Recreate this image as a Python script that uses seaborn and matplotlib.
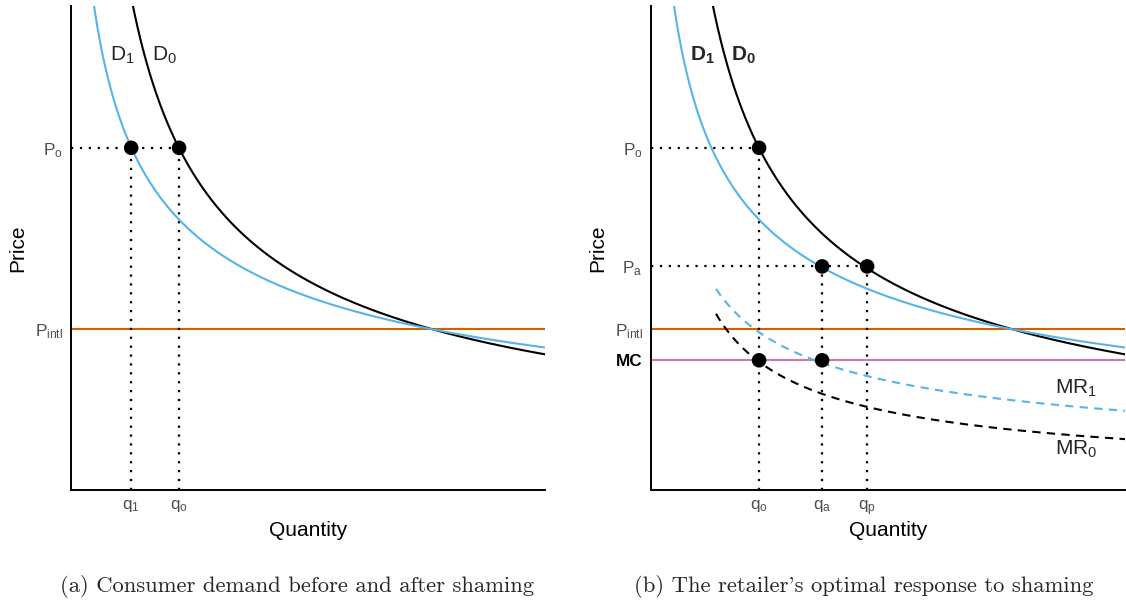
import numpy as np
import pandas as pd
import matplotlib
matplotlib.use("Agg")
import matplotlib.pyplot as plt
import seaborn as sns

# ---- data ----
# demand curves P = k * (Q + s) ** (-e)
d0_k, d0_s, d0_e = 11.82, 0.0, 0.625
d1_k, d1_s, d1_e = 8.43, 0.2, 0.453
mr_q_start = 1.37
q_max = 10.0
p_max = 10.0

# key prices and quantities
price_o = 7.07
price_a = 4.62
price_intl = 3.33
price_mc = 2.68
q_1 = 1.27
q_o = 2.28
q_a = 3.61
q_p = 4.56

left_ytick_vals = [price_intl, price_o]
left_ytick_labels = [r"$\mathregular{P_{intl}}$", r"$\mathregular{P_o}$"]
left_xtick_vals = [q_1, q_o]
left_xtick_labels = [r"$\mathregular{q_1}$", r"$\mathregular{q_o}$"]

right_ytick_vals = [price_mc, price_intl, price_a, price_o]
right_ytick_labels = ["MC", r"$\mathregular{P_{intl}}$", r"$\mathregular{P_a}$", r"$\mathregular{P_o}$"]
right_xtick_vals = [q_o, q_a, q_p]
right_xtick_labels = [r"$\mathregular{q_o}$", r"$\mathregular{q_a}$", r"$\mathregular{q_p}$"]

left_points_q = [q_1, q_o]
left_points_p = [price_o, price_o]
right_points_q = [q_o, q_a, q_p, q_o, q_a]
right_points_p = [price_o, price_a, price_a, price_mc, price_mc]

# cmr10 draws the ASCII quote as a right single quotation mark
captions = ["(a) Consumer demand before and after shaming",
            "(b) The retailer's optimal response to shaming"]

# ---- styling ----
sns.set_theme(style="white")
plt.rcParams["font.family"] = ["Liberation Sans", "DejaVu Sans"]
plt.rcParams["mathtext.fontset"] = "custom"
plt.rcParams["mathtext.rm"] = "Liberation Sans"
plt.rcParams["mathtext.it"] = "Liberation Sans:italic"
plt.rcParams["mathtext.bf"] = "Liberation Sans:bold"

BLUE = "#56B4E9"
ORANGE = "#D55E00"
PINK = "#CC79A7"
GREY = "#4D4D4D"


def demand(q, k, s, e):
    return k * (q + s) ** (-e)


def marginal_revenue(q, k, s, e):
    return demand(q, k, s, e) * (1 - e * q / (q + s))


q_grid = np.linspace(0.02, q_max, 600)
curves = pd.DataFrame({
    "Q": np.concatenate([q_grid, q_grid]),
    "P": np.concatenate([demand(q_grid, d0_k, d0_s, d0_e), demand(q_grid, d1_k, d1_s, d1_e)]),
    "curve": ["D0"] * len(q_grid) + ["D1"] * len(q_grid),
})
q_mr = np.linspace(mr_q_start, q_max, 400)
mr_df = pd.DataFrame({
    "Q": np.concatenate([q_mr, q_mr]),
    "P": np.concatenate([marginal_revenue(q_mr, d0_k, d0_s, d0_e), marginal_revenue(q_mr, d1_k, d1_s, d1_e)]),
    "curve": ["MR0"] * len(q_mr) + ["MR1"] * len(q_mr),
})

fig = plt.figure(figsize=(11.26, 6.06), dpi=100)
W, H = 1126, 606
ax_l = fig.add_axes([71 / W, 1 - 490 / H, 474 / W, 484 / H])
ax_r = fig.add_axes([651 / W, 1 - 490 / H, 474 / W, 484 / H])

dot_style = dict(color="black", linestyle=(0, (1, 3)), linewidth=1.6, dash_capstyle="butt", zorder=2)


def base(ax):
    ax.set_xlim(0, q_max)
    ax.set_ylim(0, p_max)
    for sp in ["top", "right"]:
        ax.spines[sp].set_visible(False)
    for sp in ["left", "bottom"]:
        ax.spines[sp].set_color("black")
        ax.spines[sp].set_linewidth(1.4)
    ax.tick_params(axis="both", length=3.5, width=1.2, color="#333333",
                   labelsize=12.3, labelcolor=GREY, pad=2.5)
    ax.set_xlabel("Quantity", fontsize=15, color="black", va="center")
    ax.set_ylabel("Price", fontsize=15, color="black", va="center")
    ax.xaxis.set_label_coords(0.5, -(530 - 490) / 484)
    ax.yaxis.set_label_coords(-(651 - 598) / 474, 0.5)


# ---- left panel ----
ax = ax_l
ax.axhline(price_intl, color=ORANGE, lw=1.5, zorder=1)
sns.lineplot(data=curves, x="Q", y="P", hue="curve", palette={"D0": "black", "D1": BLUE},
             lw=1.5, legend=False, ax=ax, sort=False, zorder=3)
ax.plot([0, q_o], [price_o, price_o], **dot_style)
ax.plot([q_1, q_1], [0, price_o], **dot_style)
ax.plot([q_o, q_o], [0, price_o], **dot_style)
sns.scatterplot(x=left_points_q, y=left_points_p, color="black", s=110, edgecolor="none",
                ax=ax, zorder=5, clip_on=False)
base(ax)
ax.set_xticks(left_xtick_vals, left_xtick_labels)
ax.set_yticks(left_ytick_vals, left_ytick_labels)
ax.text(0.82, 8.99, r"$\mathregular{D_1}$", fontsize=15, ha="left", va="center")
ax.text(1.71, 8.99, r"$\mathregular{D_0}$", fontsize=15, ha="left", va="center")

# ---- right panel ----
ax = ax_r
ax.axhline(price_intl, color=ORANGE, lw=1.5, zorder=1)
ax.axhline(price_mc, color=PINK, lw=1.5, zorder=1)
sns.lineplot(data=curves, x="Q", y="P", hue="curve", palette={"D0": "black", "D1": BLUE},
             lw=1.5, legend=False, ax=ax, sort=False, zorder=3)
for name, col in [("MR0", "black"), ("MR1", BLUE)]:
    sub = mr_df[mr_df["curve"] == name]
    sns.lineplot(data=sub, x="Q", y="P", color=col, lw=1.5, ax=ax, sort=False,
                 linestyle=(0, (4, 3)), zorder=3)
ax.plot([0, q_o], [price_o, price_o], **dot_style)
ax.plot([q_o, q_o], [0, price_o], **dot_style)
ax.plot([0, q_p], [price_a, price_a], **dot_style)
ax.plot([q_a, q_a], [0, price_a], **dot_style)
ax.plot([q_p, q_p], [0, price_a], **dot_style)
sns.scatterplot(x=right_points_q, y=right_points_p, color="black", s=110, edgecolor="none",
                ax=ax, zorder=5, clip_on=False)
base(ax)
ax.set_xticks(right_xtick_vals, right_xtick_labels)
ax.set_yticks(right_ytick_vals, right_ytick_labels)
ax.get_yticklabels()[0].set_color("black")
ax.get_yticklabels()[0].set_fontweight("bold")
ax.text(0.82, 8.99, r"$\mathbf{D_1}$", fontsize=15, ha="left", va="center")
ax.text(1.69, 8.99, r"$\mathbf{D_0}$", fontsize=15, ha="left", va="center")
ax.text(8.52, 2.11, r"$\mathregular{MR_1}$", fontsize=15, ha="left", va="center")
ax.text(8.52, 0.83, r"$\mathregular{MR_0}$", fontsize=15, ha="left", va="center")

# ---- captions ----
for xc, cap in zip([297, 864], captions):
    fig.text(xc / W, 1 - 586 / H, cap, family=["cmr10", "DejaVu Serif"], fontsize=16.3,
             ha="center", va="center")

fig.savefig("out.png", dpi=100)
